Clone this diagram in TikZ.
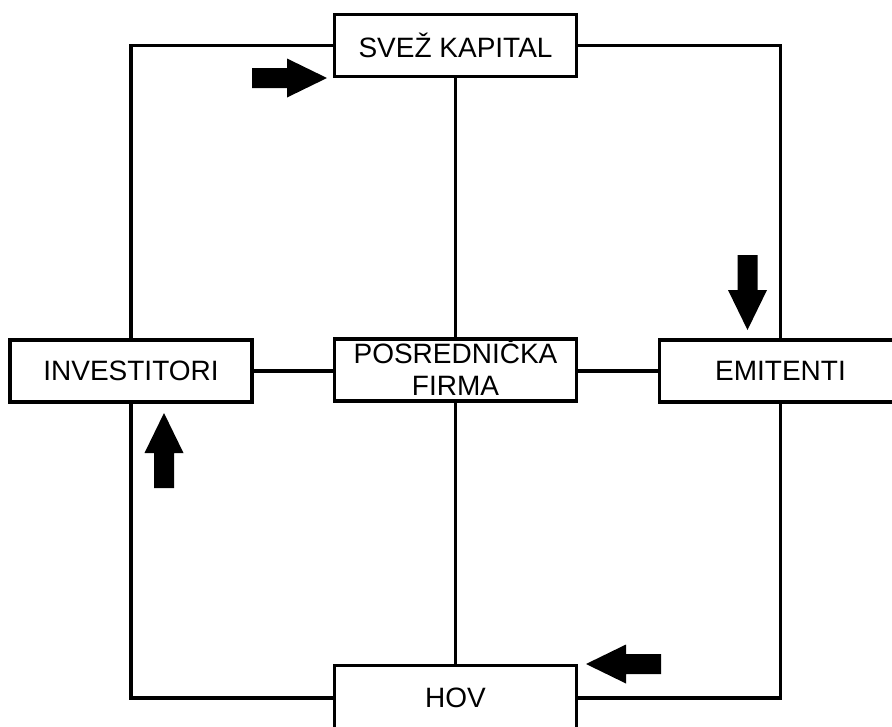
\documentclass[tikz,border=0pt]{standalone}
\usepackage{fontspec}
\setmainfont{Liberation Sans}
\usepackage{tikz}
\usetikzlibrary{positioning, calc}

\tikzset{
  box/.style={draw, line width=3.5pt, fill=white, minimum width=242pt, minimum height=62pt,
    inner sep=0pt, align=center, font=\fontsize{28}{32}\selectfont},
  link/.style={line width=3.5pt},
  flowarrow/.pic={\fill (0,-10) -- (35,-10) -- (35,-19.5) -- (75,0) -- (35,19.5) -- (35,10) -- (0,10) -- cycle;}
}

\begin{document}
\begin{tikzpicture}[x=1pt, y=-1pt]
  \useasboundingbox (0,0) rectangle (892,726);
  \clip (0,0) rectangle (892,726);

  \node[box] (svez) at (455.5,45.5) {SVEŽ KAPITAL};
  \node[box] (inv) at (131,371) {INVESTITORI};
  \node[box] (posr) at (455.5,370) {\raisebox{-8pt}[0pt][0pt]{\begin{tabular}{@{}c@{}}POSREDNIČKA\\FIRMA\end{tabular}}};
  \node[box] (emit) at (780.5,371) {EMITENTI};
  \node[box, minimum height=65pt] (hov) at (455.5,698) {HOV};

  % outer loop
  \draw[link] (svez.west) -| (inv.north);
  \draw[link] (inv.south) |- (hov.west);
  \draw[link] (hov.east) -| (emit.south);
  \draw[link] (emit.north) |- (svez.east);

  % cross
  \draw[link] (svez) -- (posr);
  \draw[link] (posr) -- (hov);
  \draw[link] (inv) -- (inv -| posr.west);
  \draw[link] (posr.east |- emit) -- (emit);

  % direction of flow
  \pic at (252,78) {flowarrow};
  \pic[rotate=-90] at (747.5,255) {flowarrow};
  \pic[rotate=90] at (164,488) {flowarrow};
  \pic[rotate=180] at (661,664) {flowarrow};
\end{tikzpicture}
\end{document}
